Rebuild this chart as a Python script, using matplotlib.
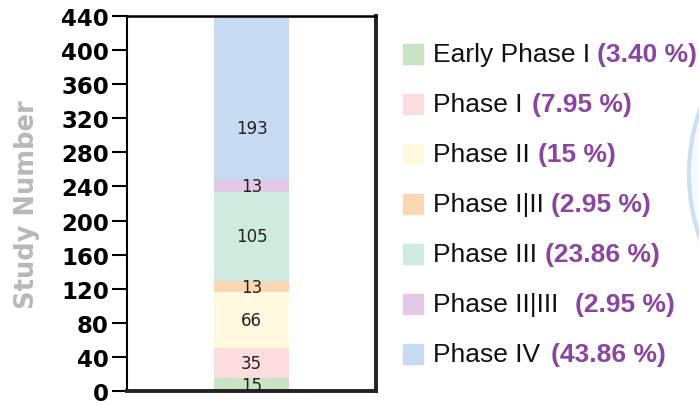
import matplotlib.pyplot as plt
import matplotlib.patches as mpatches

plt.rcParams['font.family'] = ['Liberation Sans', 'DejaVu Sans']

# data
phases = ['Early Phase I', 'Phase I', 'Phase II', 'Phase I|II', 'Phase III', 'Phase II|III', 'Phase IV']
counts = [15, 35, 66, 13, 105, 13, 193]
pct_labels = ['(3.40 %)', '(7.95 %)', '(15 %)', '(2.95 %)', '(23.86 %)', '(2.95 %)', '(43.86 %)']
colors = ['#c8e4c2', '#fddcdf', '#fffadf', '#fdd7b3', '#cfeade', '#e4c9e6', '#c6daf1']
yticks = list(range(0, 441, 40))

# the value labels sit in the middle of the part of each segment below this
label_cap = 370
# gap between name and percentage, in points
gaps = [5, 7, 6, 5, 6, 12, 8]

fig = plt.figure(figsize=(6.99, 4.06), dpi=100)
ax = fig.add_axes([0.1817, 0.0345, 0.3562, 0.9236])

bottom = 0
for name, c, col in zip(phases, counts, colors):
    ax.bar(0, c, bottom=bottom, width=0.3, color=col, edgecolor='none')
    ymid = (bottom + min(bottom + c, label_cap)) / 2
    ax.text(0, ymid, str(c), ha='center', va='center', fontsize=12,
            family='DejaVu Sans', color='#222222')
    bottom += c

ax.set_xlim(-0.5, 0.5)
ax.set_ylim(0, 440)
ax.set_yticks(yticks)
ax.set_xticks([])
ax.tick_params(axis='y', length=11, width=1.5, pad=2)
for lab in ax.get_yticklabels():
    lab.set_fontweight('bold')
    lab.set_family('DejaVu Sans')
    lab.set_fontsize(16.5)
ax.set_ylabel('Study Number', fontsize=18.5, fontweight='bold', family='DejaVu Sans',
              color='#b8b8b8')
ax.yaxis.set_label_coords(-0.35, 0.5)

ax.spines['left'].set_linewidth(1.5)
ax.spines['top'].set_linewidth(1.8)
ax.spines['bottom'].set_linewidth(2.8)
ax.spines['right'].set_linewidth(2.8)
ax.spines['bottom'].set_color('#222222')
ax.spines['right'].set_color('#222222')

# legend drawn by hand so the percentages can be purple
y0 = 1 - 55 / 406
step = 50 / 406
for i, (name, pct, col) in enumerate(zip(phases, pct_labels, colors)):
    y = y0 - i * step
    fig.patches.append(mpatches.Rectangle((403 / 699, y - 10 / 406), 20 / 699, 20 / 406,
                                          transform=fig.transFigure, color=col))
    t = fig.text(433 / 699, y, name, fontsize=19, va='center', ha='left', color='#111111')
    ax.annotate(pct, xy=(1, 0.5), xycoords=t, xytext=(gaps[i], 0), textcoords='offset points',
                va='center', ha='left', fontsize=19, fontweight='bold', color='#8a45a0',
                annotation_clip=False)

# edge of the neighbouring panel
circ = mpatches.Circle((8.84, 2.31), 1.95, transform=fig.dpi_scale_trans,
                       facecolor='#f7fafd', edgecolor='#cddff3', linewidth=3)
fig.patches.append(circ)

fig.savefig('out.png', dpi=100)
